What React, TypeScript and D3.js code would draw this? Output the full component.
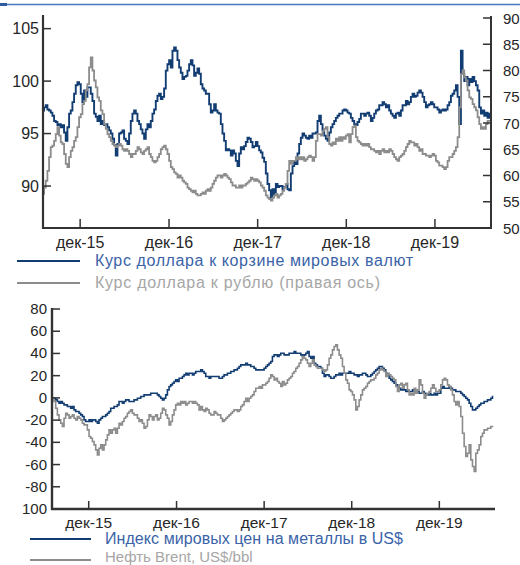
import React from 'react';
import * as d3 from 'd3';

// ---------- DATA ----------
// Top panel: observations evenly spread between these dates
const TOP_START = '2015-07-02';
const TOP_END = '2020-07-22';
// Bottom panel
const BOTTOM_START = '2015-07-06';
const BOTTOM_END = '2020-07-13';

// Курс доллара к корзине мировых валют (left axis)
const usdIndex = [
  97.2, 97.5, 97.7, 97.3, 97.2, 97.0, 96.7, 96.2, 96.1, 95.8,
  95.9, 95.6, 95.8, 95.1, 94.3, 95.6, 96.9, 97.2, 98.0, 98.8,
  99.6, 99.9, 99.7, 98.8, 98.0, 99.1, 98.5, 99.4, 99.4, 98.8,
  98.1, 96.9, 96.6, 96.2, 96.7, 95.9, 96.2, 95.8, 95.9, 95.6,
  95.3, 95.0, 94.5, 93.9, 92.9, 94.0, 95.0, 95.1, 95.3, 94.5,
  94.3, 94.0, 95.0, 96.2, 96.9, 97.2, 96.9, 96.2, 95.9, 95.4,
  95.0, 94.5, 95.4, 95.9, 95.6, 96.2, 96.9, 97.3, 98.1, 98.6,
  98.8, 98.3, 98.5, 99.3, 101.0, 101.6, 102.0, 101.3, 102.9, 103.2,
  102.9, 102.0, 101.3, 100.8, 100.2, 100.4, 100.5, 101.0, 101.6, 102.0,
  101.5, 100.5, 100.8, 101.2, 100.7, 99.7, 99.3, 99.1, 98.8, 98.8,
  97.8, 97.0, 97.2, 97.8, 97.2, 97.0, 96.9, 95.9, 95.0, 94.3,
  93.4, 93.5, 93.4, 92.9, 93.4, 93.1, 92.4, 91.9, 93.1, 93.7,
  93.5, 93.8, 94.2, 94.6, 94.5, 94.2, 93.7, 93.8, 94.2, 93.8,
  93.4, 93.2, 92.7, 92.3,
  91.2, 90.2, 89.6, 88.9, 89.7, 89.2, 90.2, 89.9, 90.0, 90.0,
  89.7, 89.9, 90.2, 89.7, 89.6, 91.2, 91.9, 92.4, 92.1, 93.1,
  94.0, 94.6, 95.0, 94.8, 94.6, 94.5, 94.8, 94.6, 95.0, 95.0,
  95.1, 96.2, 96.7, 95.9, 95.3, 94.8, 94.5, 94.3, 95.1, 95.6,
  95.9, 96.2, 96.5, 96.7, 96.9, 96.9, 97.2, 97.3, 97.2, 97.0,
  96.9, 96.5, 96.2, 95.9, 95.8, 96.1, 96.4, 96.9, 96.9, 96.7,
  96.9, 97.0, 96.7, 96.2, 96.5, 96.9, 97.2, 97.3, 97.7, 97.7,
  98.0, 97.8, 97.5, 97.7, 97.2, 96.9, 96.7, 96.5, 96.9, 97.0,
  96.7, 97.2, 97.7, 97.7, 98.1, 97.8, 98.0, 98.5, 98.8, 98.5,
  98.6, 98.9, 99.1, 98.9, 98.5, 98.0, 97.5, 97.7, 97.8, 98.0,
  97.8, 97.5, 97.5, 97.3, 97.0, 97.2, 97.3, 97.2, 97.3, 97.7,
  98.0, 98.6, 98.8, 99.1, 99.6, 98.5, 95.9, 102.9, 100.7, 100.0,
  100.4, 99.6, 100.2, 99.9, 100.4, 100.0, 99.6, 99.1, 97.5, 96.9,
  97.2, 96.7, 97.0, 96.5, 96.9, 96.7,
];

// Курс доллара к рублю (right axis)
const usdRub = [
  56.5, 57.7, 59.0, 60.9, 63.5, 65.4, 65.7, 66.6, 67.9, 69.2,
  67.6, 66.3, 66.0, 64.1, 62.2, 61.6, 63.5, 64.7, 65.4, 66.6,
  67.3, 69.2, 71.1, 71.7, 73.6, 74.2, 76.2, 77.4, 80.6, 82.5,
  80.0, 78.1, 76.8, 74.9, 74.2, 72.4, 71.7, 69.8, 68.9, 67.9,
  67.3, 66.6, 66.0, 65.7, 65.4, 65.7, 66.0, 65.7, 65.0, 64.7,
  65.0, 64.7, 64.1, 63.5, 64.1, 64.1, 64.7, 65.4, 65.0, 64.4,
  64.1, 64.7, 65.0, 65.4, 64.1, 63.5, 62.8, 62.5, 62.8, 63.5,
  64.1, 65.0, 65.4, 65.7, 65.0, 64.1, 62.8, 61.6, 61.2, 60.6,
  60.3, 59.6, 60.0, 59.6, 59.0, 58.7, 58.4, 57.7, 57.4, 57.1,
  56.8, 57.1, 56.5, 56.2, 56.2, 56.5, 56.8, 56.5, 57.1, 57.4,
  57.1, 57.7, 58.4, 59.0, 59.6, 60.0, 60.0, 59.6, 60.0, 60.3,
  60.0, 59.6, 59.3, 58.7, 58.1, 58.1, 57.7, 57.7, 58.1, 57.7,
  58.1, 58.1, 58.4, 58.7, 59.0, 59.6, 59.3, 59.0, 59.3, 59.0,
  58.7, 58.1, 57.7, 57.1,
  56.2, 55.8, 55.5, 55.2, 55.8, 56.2, 56.5, 55.8, 56.2, 56.5,
  57.1, 57.7, 58.4, 60.9, 62.8, 62.2, 62.8, 62.8, 63.5, 63.1,
  63.5, 63.1, 63.5, 62.8, 63.1, 63.5, 63.8, 63.5, 62.8, 63.5,
  66.6, 67.9, 67.9, 67.6, 68.5, 68.9, 69.2, 67.3, 66.0, 65.7,
  66.3, 66.0, 67.0, 66.6, 67.3, 66.6, 67.3, 67.0, 67.6, 67.9,
  66.3, 67.9, 69.2, 69.5, 67.3, 66.6, 66.3, 66.0, 65.7, 66.0,
  65.7, 66.0, 65.4, 65.0, 65.0, 64.7, 64.4, 64.7, 64.1, 64.7,
  65.0, 64.4, 64.7, 64.4, 65.0, 64.7, 64.1, 63.5, 63.1, 62.8,
  63.5, 63.8, 64.1, 64.7, 65.4, 66.0, 66.6, 66.3, 66.3, 65.7,
  66.0, 65.4, 64.7, 65.0, 64.1, 64.1, 63.8, 63.8, 63.5, 63.8,
  64.1, 63.8, 62.8, 62.5, 61.9, 61.9, 61.6, 61.2, 61.6, 62.8,
  63.5, 63.5, 64.1, 64.7, 65.4, 67.3, 73.0, 79.3, 80.0, 78.7,
  78.1, 76.2, 74.9, 74.6, 73.6, 73.0, 72.4, 71.1, 69.8, 68.9,
  69.2, 68.9, 69.8, 70.4, 70.4, 70.8,
];

// Индекс мировых цен на металлы в US$ (% change)
const metalsIndex = [
  -0.3, -0.3, -1.8, -3.3, -4.8, -3.3, -4.8, -6.3, -6.3, -7.8,
  -7.8, -9.3, -7.8, -10.8, -12.3, -12.3, -13.8, -15.3, -16.8, -19.8,
  -21.3, -21.3, -19.8, -21.3, -19.8, -19.8, -21.3, -22.8, -19.8, -18.3,
  -16.8, -16.8, -15.3, -13.8, -12.3, -9.3, -9.3, -7.8, -7.8, -6.3,
  -3.3, -3.3, -4.8, -3.3, -1.8, -1.8, -3.3, -3.3, -3.3, -1.8,
  -1.8, -0.3, -0.3, 1.2, 1.2, 2.7, 2.7, 2.7, 2.7, 4.2,
  4.2, 4.2, 4.2, 2.7, 1.2, -0.3, -1.8, -0.3, 2.7, 7.2,
  10.2, 11.7, 13.2, 14.7, 16.2, 14.7, 17.7, 17.7, 19.2, 20.7,
  22.2, 20.7, 22.2, 22.2, 20.7, 22.2, 23.7, 23.7, 23.7, 25.2,
  23.7, 22.2, 19.2, 19.2, 17.7, 19.2, 19.2, 19.2, 19.2, 19.2,
  17.7, 17.7, 19.2, 20.7, 20.7, 22.2, 22.2, 23.7, 23.7, 25.2,
  25.2, 26.7, 28.2, 29.7, 29.7, 29.7, 31.2, 29.7, 29.7, 28.2,
  28.2, 26.7, 25.2, 25.2, 25.2, 25.2, 25.2, 26.7, 28.2, 29.7,
  31.2,
  32.7, 37.2, 38.7, 38.7, 37.2, 38.7, 40.2, 40.2, 38.7, 38.7,
  38.7, 40.2, 40.2, 40.2, 41.7, 40.2, 40.2, 40.2, 38.7, 37.2,
  38.7, 40.2, 41.7, 37.2, 35.7, 37.2, 31.2, 29.7, 28.2, 28.2,
  26.7, 22.2, 19.2, 20.7, 20.7, 19.2, 17.7, 17.7, 19.2, 20.7,
  20.7, 22.2, 20.7, 22.2, 22.2, 22.2, 22.2, 23.7, 22.2, 22.2,
  20.7, 20.7, 19.2, 20.7, 20.7, 22.2, 22.2, 20.7, 19.2, 19.2,
  20.7, 22.2, 23.7, 25.2, 26.7, 28.2, 28.2, 26.7, 25.2, 22.2,
  20.7, 17.7, 16.2, 14.7, 13.2, 11.7, 10.2, 8.7, 7.2, 7.2,
  7.2, 5.7, 7.2, 5.7, 5.7, 7.2, 5.7, 5.7, 5.7, 4.2,
  4.2, 5.7, 4.2, 2.7, 2.7, 4.2, 2.7, 2.7, 4.2, 2.7,
  4.2, 4.2, 8.7, 10.2, 8.7, 8.7, 8.7, 10.2, 8.7, 7.2,
  7.2, 5.7, 5.7, 5.7, 4.2, 2.7, 1.2, -0.3, -1.8, -4.8,
  -7.8, -10.8, -10.8, -9.3, -7.8, -6.3, -4.8, -4.8, -3.3, -3.3,
  -1.8, -1.8, -0.3, 1.2,
];

// Нефть Brent, US$/bbl (% change)
const brentOil = [
  -0.3, -3.3, -9.3, -15.3, -19.8, -22.8, -25.8, -18.3, -13.8, -15.3,
  -18.3, -16.8, -15.3, -18.3, -19.8, -16.8, -18.3, -19.8, -22.8, -24.3,
  -24.3, -28.8, -34.8, -36.3, -39.3, -42.3, -46.8, -51.3, -45.3, -42.3,
  -46.8, -42.3, -37.8, -33.3, -28.8, -31.8, -28.8, -27.3, -31.8, -27.3,
  -22.8, -24.3, -21.3, -18.3, -16.8, -13.8, -12.3, -10.8, -13.8, -15.3,
  -15.3, -18.3, -21.3, -19.8, -22.8, -27.3, -25.8, -19.8, -15.3, -16.8,
  -19.8, -16.8, -15.3, -19.8, -18.3, -13.8, -9.3, -10.8, -15.3, -18.3,
  -24.3, -21.3, -15.3, -10.8, -6.3, -4.8, -6.3, -3.3, -4.8, -3.3,
  -6.3, -4.8, -3.3, -3.3, -4.8, -3.3, -4.8, -6.3, -10.8, -7.8,
  -10.8, -12.3, -9.3, -10.8, -13.8, -15.3, -15.3, -12.3, -13.8, -15.3,
  -15.3, -18.3, -21.3, -19.8, -18.3, -16.8, -15.3, -13.8, -12.3, -10.8,
  -10.8, -12.3, -10.8, -7.8, -6.3, -3.3, -0.3, -3.3, -0.3, 1.2,
  2.7, 5.7, 8.7, 8.7, 10.2, 8.7, 11.7, 11.7, 13.2, 14.7,
  17.7,
  20.7, 19.2, 16.2, 17.7, 14.7, 13.2, 10.2, 14.7, 11.7, 13.2,
  16.2, 17.7, 19.2, 22.2, 23.7, 26.7, 28.2, 31.2, 34.2, 37.2,
  35.7, 34.2, 31.2, 28.2, 31.2, 34.2, 29.7, 28.2, 26.7, 26.7,
  26.7, 25.2, 23.7, 25.2, 29.7, 35.7, 38.7, 43.2, 46.2, 47.7,
  43.2, 38.7, 35.7, 28.2, 22.2, 16.2, 13.2, 7.2, 5.7, 2.7,
  -1.8, -10.8, -7.8, -1.8, 2.7, 7.2, 8.7, 10.2, 13.2, 14.7,
  16.2, 16.2, 17.7, 20.7, 22.2, 25.2, 26.7, 25.2, 23.7, 19.2,
  22.2, 20.7, 19.2, 17.7, 16.2, 10.2, 5.7, 11.7, 13.2, 8.7,
  11.7, 13.2, 7.2, 2.7, 4.2, 2.7, 8.7, 4.2, 7.2, 16.2,
  11.7, 4.2, -0.3, 2.7, 4.2, 5.7, 8.7, 11.7, 8.7, 5.7,
  5.7, 7.2, 11.7, 16.2, 17.7, 16.2, 11.7, 10.2, 7.2, 2.7,
  -3.3, -6.3, -3.3, -7.8, -16.8, -31.8, -43.8, -52.8, -49.8, -42.3,
  -55.8, -61.8, -66.3, -49.8, -46.8, -42.3, -34.8, -31.8, -28.8, -28.8,
  -27.3, -27.3, -25.8, -25.8,
];

const TICK_DATES = ['2015-12-01', '2016-12-01', '2017-12-01', '2018-12-01', '2019-12-01'];
const TICK_LABELS = ['дек-15', 'дек-16', 'дек-17', 'дек-18', 'дек-19'];
const TOP_LEFT_TICKS = [90, 95, 100, 105];
const TOP_RIGHT_TICKS = [50, 55, 60, 65, 70, 75, 80, 85, 90];
const BOTTOM_TICKS = [80, 60, 40, 20, 0, -20, -40, -60, -80, -100];
const BOTTOM_TICK_LABELS = ['80', '60', '40', '20', '0', '-20', '-40', '-60', '-80', '100'];
const LEGEND_TOP = ['Курс доллара к корзине мировых валют', 'Курс доллара к рублю (правая ось)'];
const LEGEND_BOTTOM = ['Индекс мировых цен на металлы в US$', 'Нефть Brent, US$/bbl'];

// ---------- STYLE ----------
const BLUE = '#123d73';
const GRAY = '#8c8c8c';
const AXIS = '#333333';
const LABEL = '#262626';
const FONT = 'Liberation Sans, Arial, sans-serif';

const parse = d3.timeParse('%Y-%m-%d');

function spread(start: string, end: string, values: number[]) {
  const t0 = parse(start)!.getTime();
  const t1 = parse(end)!.getTime();
  const n = values.length;
  return values.map((v, i) => ({ date: new Date(t0 + ((t1 - t0) * i) / (n - 1)), value: v }));
}

export default function App() {
  const W = 520;
  const H = 565;

  // ---- top panel scales ----
  const xTop = d3.scaleTime().domain([parse('2015-07-01')!, parse('2020-07-23')!]).range([43, 492]);
  const yLeft = d3.scaleLinear().domain([86, 106.3]).range([228, 15]);
  const yRight = d3.scaleLinear().domain([50, 90]).range([228, 18]);

  // ---- bottom panel scales ----
  const xBot = d3.scaleTime().domain([parse('2015-07-01')!, parse('2020-07-20')!]).range([52, 495]);
  const yBot = d3.scaleLinear().domain([-100, 80]).range([509, 309]);

  const usdData = spread(TOP_START, TOP_END, usdIndex);
  const rubData = spread(TOP_START, TOP_END, usdRub);
  const metData = spread(BOTTOM_START, BOTTOM_END, metalsIndex);
  const oilData = spread(BOTTOM_START, BOTTOM_END, brentOil);

  type P = { date: Date; value: number };
  const lineTopL = d3.line<P>().x(d => xTop(d.date)).y(d => yLeft(d.value)).curve(d3.curveStep);
  const lineTopR = d3.line<P>().x(d => xTop(d.date)).y(d => yRight(d.value)).curve(d3.curveStep);
  const lineBot = d3.line<P>().x(d => xBot(d.date)).y(d => yBot(d.value)).curve(d3.curveStep);

  return (
    <svg
      width={W}
      height={H}
      style={{ position: 'absolute', left: 0, top: 0, background: '#fff' }}
      fontFamily={FONT}
    >
      <rect x={0} y={0} width={W} height={H} fill="#fff" />
      {/* top frame line */}
      <line x1={0} x2={W} y1={4.5} y2={4.5} stroke="#4a78bd" strokeWidth={1.3} />
      <rect x={0} y={3} width={7} height={3} fill="#2f5aa0" />

      {/* ===== TOP PANEL ===== */}
      <path d={lineTopL(usdData) || ''} fill="none" stroke={BLUE} strokeWidth={1.9} />
      <path d={lineTopR(rubData) || ''} fill="none" stroke={GRAY} strokeWidth={1.8} />

      {/* axes */}
      <line x1={43} x2={43} y1={15} y2={229} stroke={AXIS} strokeWidth={2.2} />
      <line x1={491} x2={491} y1={16} y2={229} stroke={AXIS} strokeWidth={2} />
      <line x1={42} x2={492} y1={228} y2={228} stroke={AXIS} strokeWidth={2.2} />

      {TOP_LEFT_TICKS.map(t => (
        <g key={'tl' + t}>
          <line x1={43} x2={51} y1={yLeft(t)} y2={yLeft(t)} stroke={AXIS} strokeWidth={1.5} />
          <text x={39} y={yLeft(t) + 5.5} textAnchor="end" fontSize={16} fill={LABEL}>
            {t}
          </text>
        </g>
      ))}
      {TOP_RIGHT_TICKS.map(t => (
        <g key={'tr' + t}>
          <line x1={483} x2={491} y1={yRight(t)} y2={yRight(t)} stroke={AXIS} strokeWidth={1.5} />
          <text x={503} y={yRight(t) + 5.5} textAnchor="start" fontSize={15} fill={LABEL}>
            {t}
          </text>
        </g>
      ))}
      {TICK_DATES.map((d, i) => {
        const x = xTop(parse(d)!);
        return (
          <g key={'tx' + d}>
            <line x1={x} x2={x} y1={219} y2={228} stroke={AXIS} strokeWidth={1.5} />
            <text x={x} y={248} textAnchor="middle" fontSize={16} fill={LABEL}>
              {TICK_LABELS[i]}
            </text>
          </g>
        );
      })}

      {/* legend top */}
      <line x1={17} x2={80} y1={261} y2={261} stroke={BLUE} strokeWidth={2} />
      <text x={95} y={266} fontSize={16} fill="#3a63a8" textLength={318} lengthAdjust="spacing">
        {LEGEND_TOP[0]}
      </text>
      <line x1={17} x2={80} y1={283} y2={283} stroke={GRAY} strokeWidth={2} />
      <text x={95} y={288} fontSize={16} fill="#a6a6a6" textLength={285} lengthAdjust="spacing">
        {LEGEND_TOP[1]}
      </text>

      {/* ===== BOTTOM PANEL ===== */}
      <path d={lineBot(metData) || ''} fill="none" stroke={BLUE} strokeWidth={1.6} />
      <path d={lineBot(oilData) || ''} fill="none" stroke={GRAY} strokeWidth={1.6} />

      <line x1={52} x2={52} y1={308} y2={510} stroke={AXIS} strokeWidth={2.4} />
      <line x1={51} x2={495} y1={509} y2={509} stroke={AXIS} strokeWidth={2.4} />

      {BOTTOM_TICKS.map((t, i) => (
        <g key={'bl' + t}>
          <line x1={52} x2={60} y1={yBot(t)} y2={yBot(t)} stroke={AXIS} strokeWidth={1.5} />
          <text x={47} y={yBot(t) + 5} textAnchor="end" fontSize={15} fill={LABEL}>
            {BOTTOM_TICK_LABELS[i]}
          </text>
        </g>
      ))}
      {TICK_DATES.map((d, i) => {
        const x = xBot(parse(d)!);
        return (
          <g key={'bx' + d}>
            <line x1={x} x2={x} y1={501} y2={509} stroke={AXIS} strokeWidth={1.5} />
            <text x={x} y={528} textAnchor="middle" fontSize={15.5} fill={LABEL}>
              {TICK_LABELS[i]}
            </text>
          </g>
        );
      })}

      {/* legend bottom */}
      <line x1={30} x2={91} y1={539} y2={539} stroke={BLUE} strokeWidth={2} />
      <text x={105} y={544} fontSize={16} fill="#3a63a8" textLength={298} lengthAdjust="spacing">
        {LEGEND_BOTTOM[0]}
      </text>
      <line x1={30} x2={91} y1={560} y2={560} stroke={GRAY} strokeWidth={2} />
      <text x={105} y={562} fontSize={15} fill="#a6a6a6">
        {LEGEND_BOTTOM[1]}
      </text>
    </svg>
  );
}
